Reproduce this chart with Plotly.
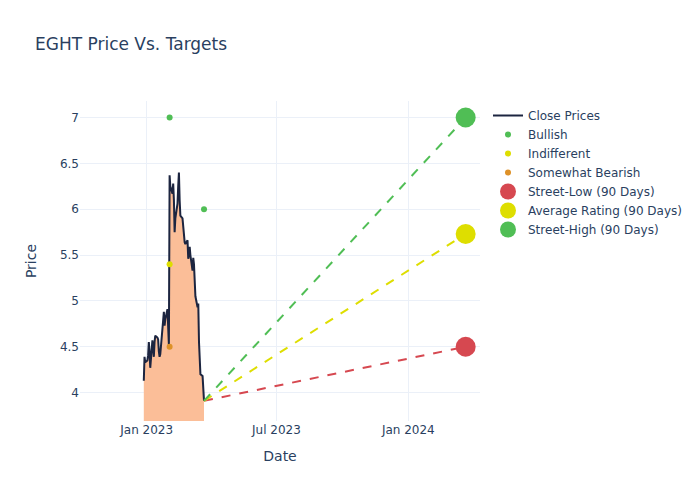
import pandas as pd
import plotly.graph_objects as go

dates = pd.bdate_range("2022-12-28", "2023-03-22")
close_prices = [
    4.13, 4.39, 4.33, 4.35, 4.40, 4.55, 4.45, 4.27, 4.57, 4.48,
    4.39, 4.55, 4.62, 4.60, 4.58, 4.45, 4.39, 4.42, 4.68, 4.75,
    4.88, 4.73, 4.80, 4.91, 4.55, 4.52, 6.37, 6.25, 6.17, 6.28,
    6.10, 5.75, 5.90, 6.06, 6.25, 6.40, 6.10, 5.93, 5.90, 5.80,
    5.70, 5.64, 5.62, 5.66, 5.46, 5.50, 5.59, 5.50, 5.33, 5.47,
    5.40, 5.20, 5.05, 4.93, 4.97, 4.55, 4.30, 4.20, 4.18, 4.05,
    3.91,
]

bullish_dates = ["2023-02-02", "2023-03-22"]
bullish_prices = [7.0, 6.0]
indifferent_dates = ["2023-02-02"]
indifferent_prices = [5.4]
bearish_dates = ["2023-02-02"]
bearish_prices = [4.5]

target_date = "2024-03-21"
street_low = 4.5
average_rating = 5.73
street_high = 7.0

RED = "rgb(214,72,80)"
YELLOW = "rgb(222,222,0)"
GREEN = "rgb(80,190,85)"
ORANGE = "rgb(222,145,40)"

fig = go.Figure()
fig.add_trace(go.Scatter(
    x=dates, y=close_prices, mode="lines", showlegend=False,
    line=dict(width=0), fill="tozeroy", fillcolor="rgb(251,190,152)",
    hoverinfo="skip",
))
fig.add_trace(go.Scatter(
    x=dates, y=close_prices, mode="lines", name="Close Prices",
    line=dict(color="#1c2540", width=2),
))

last_date = dates[-1]
last_price = close_prices[-1]
for val, col in [(street_low, RED), (average_rating, YELLOW), (street_high, GREEN)]:
    fig.add_trace(go.Scatter(
        x=[last_date, target_date], y=[last_price, val], mode="lines",
        line=dict(color=col, dash="dash", width=2), showlegend=False,
        hoverinfo="skip",
    ))

fig.add_trace(go.Scatter(x=bullish_dates, y=bullish_prices, mode="markers",
                         name="Bullish", marker=dict(color=GREEN, size=6)))
fig.add_trace(go.Scatter(x=indifferent_dates, y=indifferent_prices, mode="markers",
                         name="Indifferent", marker=dict(color=YELLOW, size=6)))
fig.add_trace(go.Scatter(x=bearish_dates, y=bearish_prices, mode="markers",
                         name="Somewhat Bearish", marker=dict(color=ORANGE, size=6)))
fig.add_trace(go.Scatter(x=[target_date], y=[street_low], mode="markers",
                         name="Street-Low (90 Days)", marker=dict(color=RED, size=20)))
fig.add_trace(go.Scatter(x=[target_date], y=[average_rating], mode="markers",
                         name="Average Rating (90 Days)", marker=dict(color=YELLOW, size=20)))
fig.add_trace(go.Scatter(x=[target_date], y=[street_high], mode="markers",
                         name="Street-High (90 Days)", marker=dict(color=GREEN, size=20)))

fig.update_layout(
    template="plotly_white",
    width=700, height=500,
    margin=dict(l=72, r=228, t=93, b=87, autoexpand=False),
    font=dict(family="DejaVu Sans"),
    title=dict(text="EGHT Price Vs. Targets", x=27 / 700, xanchor="left",
               y=1 - 36 / 500, yanchor="middle"),
    xaxis=dict(title=dict(text="Date"), range=["2022-09-30", "2024-04-10"],
               dtick="M6", tick0="2023-01-01", tickformat="%b %Y"),
    yaxis=dict(title=dict(text="Price", standoff=20), range=[3.69, 7.18]),
)

fig.write_html("out.html")
